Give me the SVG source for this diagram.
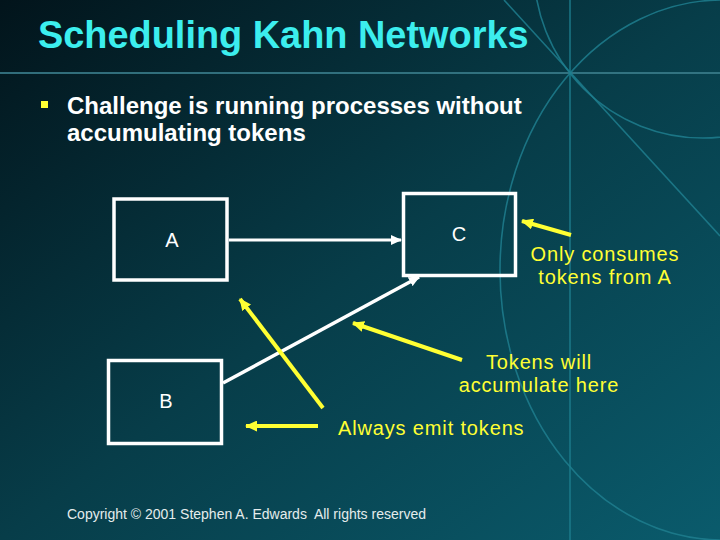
<svg xmlns="http://www.w3.org/2000/svg" width="720" height="540" viewBox="0 0 720 540">
<defs>
<linearGradient id="bg" x1="0" y1="0" x2="1" y2="1">
<stop offset="0" stop-color="#02141b"/>
<stop offset="0.5" stop-color="#073d49"/>
<stop offset="1" stop-color="#0a5b6c"/>
</linearGradient>
<marker id="wh" markerUnits="userSpaceOnUse" markerWidth="12" markerHeight="10" refX="10" refY="5" orient="auto">
<path d="M0,0 L11,5 L0,10 Z" fill="#ffffff"/>
</marker>
<marker id="yh" markerUnits="userSpaceOnUse" markerWidth="13" markerHeight="11" refX="11" refY="5.5" orient="auto">
<path d="M0,0 L12,5.5 L0,11 Z" fill="#ffff33"/>
</marker>
<style>
.deco{fill:none;stroke:#1f7e8e;stroke-width:1.6;opacity:0.85}
.box{fill:none;stroke:#ffffff;stroke-width:3.5}
.lbl{font-family:"Liberation Sans",Arial,sans-serif;font-size:20px;fill:#ffffff;text-anchor:middle}
.note{font-family:"Liberation Sans",Arial,sans-serif;font-size:20px;letter-spacing:0.85px;fill:#ffff33}
.wl{stroke:#ffffff;stroke-width:3.5;fill:none}
.yl{stroke:#ffff33;stroke-width:4;fill:none}
</style>
</defs>
<rect width="720" height="540" fill="url(#bg)"/>
<g id="decor">
<line class="deco" x1="0" y1="73" x2="720" y2="73" style="stroke:#3a7d8b;stroke-width:2"/>
<line class="deco" x1="570" y1="0" x2="570" y2="540"/>
<line class="deco" x1="504" y1="0" x2="720" y2="236"/>
<circle class="deco" cx="703" cy="-31" r="169"/>
<ellipse class="deco" cx="722" cy="270" rx="222" ry="270"/>
</g>
<g id="title">
<text x="38" y="48" font-family="'Liberation Sans',Arial,sans-serif" font-size="37.9" font-weight="bold" fill="#3ceeee">Scheduling Kahn Networks</text>
</g>
<g id="bullet">
<rect x="41" y="101" width="7" height="7" fill="#ffff33"/>
<text font-family="'Liberation Sans',Arial,sans-serif" font-size="24" font-weight="bold" fill="#ffffff"><tspan x="67" y="114">Challenge is running processes without</tspan><tspan x="67" y="141">accumulating tokens</tspan></text>
</g>
<g id="connectors">
<line class="wl" x1="229" y1="240" x2="401" y2="240" marker-end="url(#wh)" style="stroke-width:3"/>
<line class="wl" x1="223" y1="383" x2="419" y2="277" marker-end="url(#wh)"/>
<line class="yl" x1="571" y1="235" x2="522" y2="221" marker-end="url(#yh)"/>
<line class="yl" x1="462" y1="360" x2="353" y2="323" marker-end="url(#yh)"/>
<line class="yl" x1="323" y1="408" x2="240" y2="299" marker-end="url(#yh)"/>
<line class="yl" x1="318" y1="426" x2="246" y2="426" marker-end="url(#yh)"/>
</g>
<g id="node-A">
<rect class="box" x="114" y="199" width="113" height="81"/>
<text class="lbl" x="172" y="247">A</text>
</g>
<g id="node-C">
<rect class="box" x="403.5" y="193.5" width="112" height="82"/>
<text class="lbl" x="459" y="241">C</text>
</g>
<g id="node-B">
<rect class="box" x="108.5" y="360.5" width="113" height="83"/>
<text class="lbl" x="166" y="408">B</text>
</g>
<g id="notes">
<text class="note" text-anchor="middle"><tspan x="605" y="261">Only consumes</tspan><tspan x="605" y="284">tokens from A</tspan></text>
<text class="note" text-anchor="middle"><tspan x="539" y="369">Tokens will</tspan><tspan x="539" y="392">accumulate here</tspan></text>
<text class="note" x="338" y="435">Always emit tokens</text>
</g>
<g id="footer">
<text x="67" y="519" font-family="'Liberation Sans',Arial,sans-serif" font-size="14" fill="#e4ecec" xml:space="preserve">Copyright © 2001 Stephen A. Edwards  All rights reserved</text>
</g>
</svg>
